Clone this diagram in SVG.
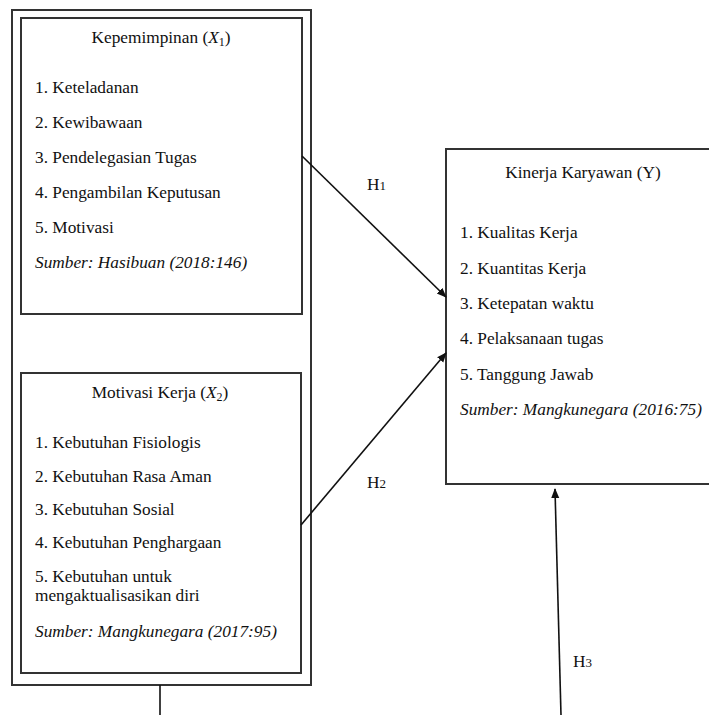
<svg xmlns="http://www.w3.org/2000/svg" width="709" height="715" viewBox="0 0 709 715">
<defs>
<style>
.box{fill:none;stroke:#333;stroke-width:2}
.i{font-style:italic}
.c{text-anchor:middle}
.ln{stroke:#111;stroke-width:1.6;fill:none}
</style>
<marker id="ah" markerWidth="10" markerHeight="10" refX="9" refY="5" orient="auto" markerUnits="userSpaceOnUse">
<path d="M0,1 L10,5 L0,9 z" fill="#111"/>
</marker>
</defs>
<rect width="709" height="715" fill="#fff"/>
<g font-family="Liberation Serif, Times New Roman, serif" font-size="17.3" fill="#111">
<g id="outer">
<rect class="box" x="12" y="10" width="299" height="675"/>
</g>
<g id="x1">
<rect class="box" x="21" y="18" width="281" height="296"/>
<text class="c" x="161" y="43">Kepemimpinan (<tspan class="i">X</tspan><tspan font-size="12" dy="3">1</tspan><tspan dy="-3">)</tspan></text>
<text x="35" y="93">1. Keteladanan</text>
<text x="35" y="128">2. Kewibawaan</text>
<text x="35" y="163">3. Pendelegasian Tugas</text>
<text x="35" y="198">4. Pengambilan Keputusan</text>
<text x="35" y="233">5. Motivasi</text>
<text class="i" x="35" y="268">Sumber: Hasibuan (2018:146)</text>
</g>
<g id="x2">
<rect class="box" x="21" y="373" width="280" height="300"/>
<text class="c" x="160" y="398">Motivasi Kerja (<tspan class="i">X</tspan><tspan font-size="12" dy="3">2</tspan><tspan dy="-3">)</tspan></text>
<text x="35" y="448">1. Kebutuhan Fisiologis</text>
<text x="35" y="482">2. Kebutuhan Rasa Aman</text>
<text x="35" y="515">3. Kebutuhan Sosial</text>
<text x="35" y="548">4. Kebutuhan Penghargaan</text>
<text x="35" y="582">5. Kebutuhan untuk</text>
<text x="35" y="601">mengaktualisasikan diri</text>
<text class="i" x="35" y="637">Sumber: Mangkunegara (2017:95)</text>
</g>
<g id="y">
<rect class="box" x="446" y="149" width="280" height="335"/>
<text class="c" x="583" y="178">Kinerja Karyawan (Y)</text>
<text x="460" y="238">1. Kualitas Kerja</text>
<text x="460" y="274">2. Kuantitas Kerja</text>
<text x="460" y="309">3. Ketepatan waktu</text>
<text x="460" y="344">4. Pelaksanaan tugas</text>
<text x="460" y="380">5. Tanggung Jawab</text>
<text class="i" x="460" y="415">Sumber: Mangkunegara (2016:75)</text>
</g>
<g id="connectors">
<line class="ln" x1="302" y1="156" x2="446" y2="297" marker-end="url(#ah)"/>
<line class="ln" x1="301" y1="525" x2="446" y2="353" marker-end="url(#ah)"/>
<line class="ln" x1="561" y1="715" x2="555" y2="489" marker-end="url(#ah)"/>
<line class="ln" x1="160" y1="685" x2="160" y2="715"/>
<text x="367" y="190">H<tspan font-size="13">1</tspan></text>
<text x="367" y="488">H<tspan font-size="13">2</tspan></text>
<text x="573" y="667">H<tspan font-size="13">3</tspan></text>
</g>
</g>
</svg>
